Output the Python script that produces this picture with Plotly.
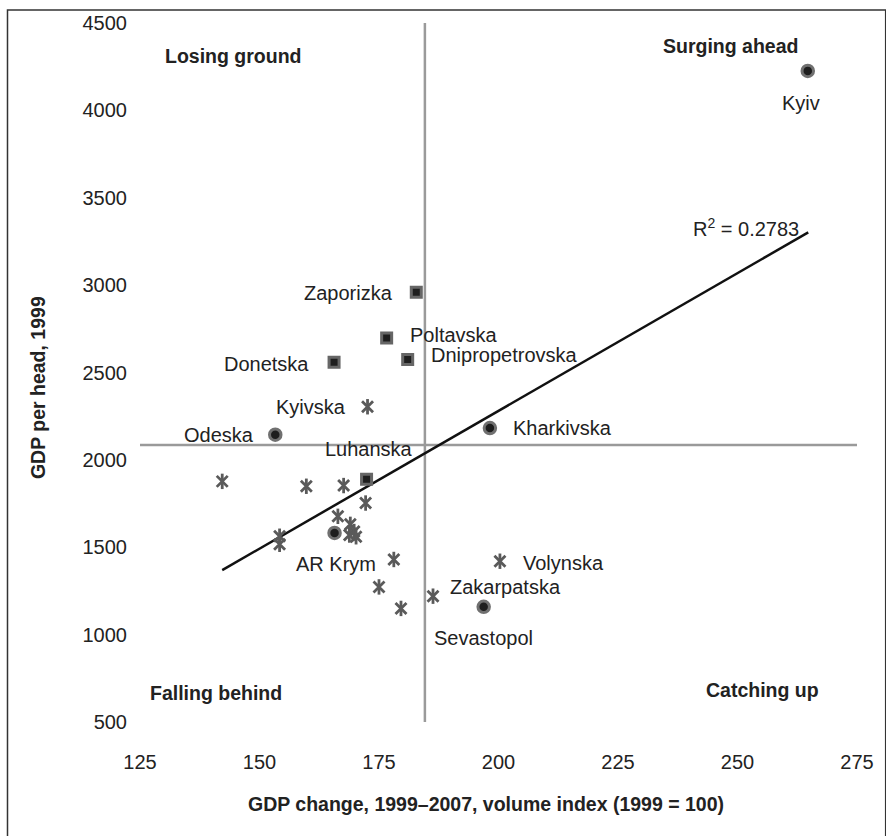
import plotly.graph_objects as go

# ---- data ----
circle_names = ["Kyiv", "Odeska", "Kharkivska", "AR Krym", "Sevastopol"]
circle_x = [264.7, 153.3, 198.2, 165.7, 196.9]
circle_y = [4226, 2144, 2182, 1582, 1159]

square_names = ["Zaporizka", "Poltavska", "Dnipropetrovska", "Donetska", "Luhanska"]
square_x = [182.8, 176.6, 181.0, 165.6, 172.4]
square_y = [2959, 2698, 2574, 2559, 1889]

star_names = ["Kyivska", "Volynska", "Zakarpatska"] + [""] * 14
star_x = [172.6, 200.3, 186.3,
          142.2, 159.8, 167.6, 172.2, 166.4, 169.0, 169.8, 168.8, 170.2,
          154.2, 154.2, 178.1, 175.0, 179.6]
star_y = [2304, 1420, 1220,
          1877, 1849, 1853, 1753, 1677, 1631, 1590, 1570, 1560,
          1563, 1517, 1430, 1273, 1150]

trend_x = [142.2, 264.8]
trend_y = [1369, 3302]
r2_text = "R<sup>2</sup> = 0.2783"

mean_x = 184.6
mean_y = 2085

x_ticks = [125, 150, 175, 200, 225, 250, 275]
y_ticks = [500, 1000, 1500, 2000, 2500, 3000, 3500, 4000, 4500]

# label offsets (pixels) relative to their point: (xanchor, xshift, yshift)
label_pos = {
    "Kyiv": ("center", -7, -32),
    "Zaporizka": ("right", -21, -1),
    "Poltavska": ("left", 21, 3),
    "Dnipropetrovska": ("left", 21, 5),
    "Donetska": ("right", -23, -2),
    "Kyivska": ("right", -20, 0),
    "Odeska": ("right", -19, 0),
    "Luhanska": ("center", 2, 30),
    "Kharkivska": ("left", 21, 0),
    "AR Krym": ("center", 1, -31),
    "Volynska": ("left", 21, -2),
    "Zakarpatska": ("left", 15, 9),
    "Sevastopol": ("left", -52, -31),
}

FONT = "Liberation Sans, Arial, sans-serif"
TXT = "#222222"
STAR = "#5a5a5a"

fig = go.Figure()

# quadrant lines
fig.add_trace(go.Scatter(x=[mean_x, mean_x], y=[500, 4500], mode="lines",
                         line=dict(color="#9a9a9a", width=2.5), hoverinfo="skip"))
fig.add_trace(go.Scatter(x=[124.6, 275.5], y=[mean_y, mean_y], mode="lines",
                         line=dict(color="#9a9a9a", width=2.5), hoverinfo="skip"))

# trend line
fig.add_trace(go.Scatter(x=trend_x, y=trend_y, mode="lines",
                         line=dict(color="#111111", width=2.5), hoverinfo="skip"))

# stars (X + vertical bar)
fig.add_trace(go.Scatter(x=star_x, y=star_y, mode="markers",
                         marker=dict(symbol="x-thin-open", size=11, color=STAR,
                                     line=dict(color=STAR, width=2.8)),
                         hovertext=star_names))
fig.add_trace(go.Scatter(x=star_x, y=star_y, mode="markers",
                         marker=dict(symbol="line-ns-open", size=11, color=STAR,
                                     line=dict(color=STAR, width=2.8)),
                         hoverinfo="skip"))

# squares
fig.add_trace(go.Scatter(x=square_x, y=square_y, mode="markers",
                         marker=dict(symbol="square", size=10, color="#1e1e1e",
                                     line=dict(color="#666666", width=3)),
                         hovertext=square_names))

# circles
fig.add_trace(go.Scatter(x=circle_x, y=circle_y, mode="markers",
                         marker=dict(symbol="circle", size=11.5, color="#1e1e1e",
                                     line=dict(color="#707070", width=3)),
                         hovertext=circle_names))

annotations = []
all_pts = list(zip(circle_names, circle_x, circle_y)) + \
          list(zip(square_names, square_x, square_y)) + \
          list(zip(star_names, star_x, star_y))
for name, x, y in all_pts:
    if name in label_pos:
        xa, xs, ys = label_pos[name]
        annotations.append(dict(x=x, y=y, xref="x", yref="y", text=name,
                                showarrow=False, xanchor=xa, yanchor="middle",
                                xshift=xs, yshift=ys,
                                font=dict(family=FONT, size=20, color=TXT)))

# R^2 label near end of trend line
annotations.append(dict(x=trend_x[1], y=trend_y[1], xref="x", yref="y", text=r2_text,
                        showarrow=False, xanchor="center", yanchor="middle",
                        xshift=-62, yshift=5,
                        font=dict(family=FONT, size=20, color=TXT)))

bold = dict(family=FONT, size=19.5, color=TXT)
quad = [
    ("<b>Losing ground</b>", 0.130, 0.953, "center"),
    ("<b>Surging ahead</b>", 0.921, 0.967, "right"),
    ("<b>Falling behind</b>", 0.106, 0.041, "center"),
    ("<b>Catching up</b>", 0.868, 0.046, "center"),
]
for t, xp, yp, xa in quad:
    annotations.append(dict(x=xp, y=yp, xref="paper", yref="paper", text=t,
                            showarrow=False, xanchor=xa, yanchor="middle", font=bold))

# axis titles
annotations.append(dict(x=0.483, y=-0.117, xref="paper", yref="paper",
                        text="<b>GDP change, 1999–2007, volume index (1999 = 100)</b>",
                        showarrow=False, xanchor="center", yanchor="middle", font=bold))
annotations.append(dict(x=-0.142, y=0.478, xref="paper", yref="paper",
                        text="<b>GDP per head, 1999</b>", textangle=-90,
                        showarrow=False, xanchor="center", yanchor="middle", font=bold))

fig.update_layout(
    width=886, height=836,
    margin=dict(l=140, r=21, t=22, b=114),
    paper_bgcolor="white", plot_bgcolor="white",
    showlegend=False,
    annotations=annotations,
    shapes=[dict(type="rect", xref="paper", yref="paper",
                 x0=-0.1848, x1=1.04, y0=-0.175, y1=1.0186,
                 line=dict(color="#333333", width=1.5), fillcolor="rgba(0,0,0,0)",
                 layer="below")],
    font=dict(family=FONT, size=20, color=TXT),
)
fig.update_xaxes(range=[125, 275], tickvals=x_ticks, showgrid=False, zeroline=False,
                 showline=False, ticks="", ticklabelstandoff=26,
                 tickfont=dict(family=FONT, size=20, color=TXT))
fig.update_yaxes(range=[500, 4500], tickvals=y_ticks, showgrid=False, zeroline=False,
                 showline=False, ticks="", ticklabelstandoff=12,
                 tickfont=dict(family=FONT, size=20, color=TXT))
fig.update_traces(cliponaxis=False)

fig.write_html("out.html")
